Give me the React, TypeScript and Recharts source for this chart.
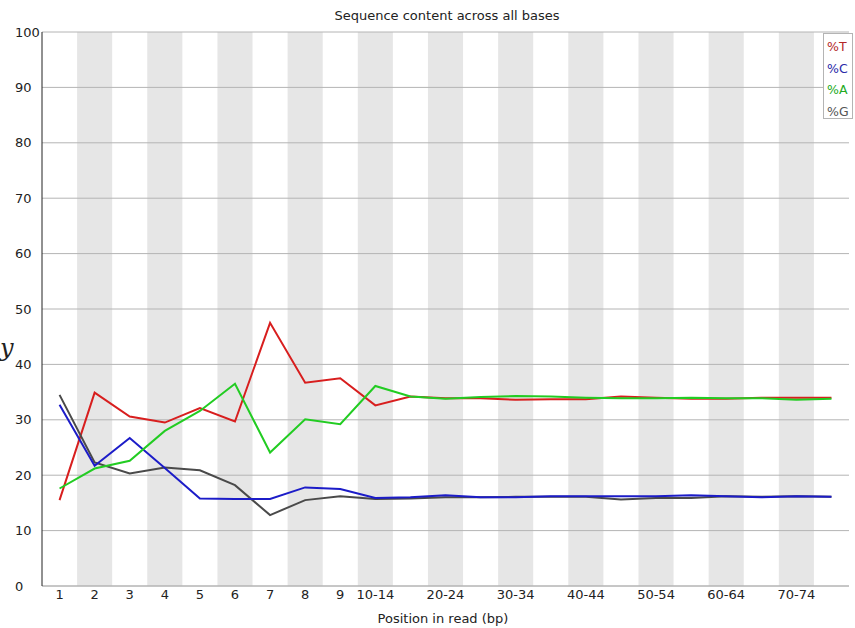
import {
  LineChart,
  Line,
  XAxis,
  YAxis,
  CartesianGrid,
  ReferenceArea,
} from "recharts"

const categories = [
  "1", "2", "3", "4", "5", "6", "7", "8", "9",
  "10-14", "15-19", "20-24", "25-29", "30-34", "35-39", "40-44",
  "45-49", "50-54", "55-59", "60-64", "65-69", "70-74", "75-76",
]

const shownLabels = [
  "1", "2", "3", "4", "5", "6", "7", "8", "9",
  "10-14", "20-24", "30-34", "40-44", "50-54", "60-64", "70-74",
]

const yTicks = [0, 10, 20, 30, 40, 50, 60, 70, 80, 90, 100]

const pctT = [
  15.5, 34.9, 30.6, 29.5, 32.1, 29.7, 47.5, 36.7, 37.5, 32.6, 34.2, 33.9,
  33.9, 33.6, 33.7, 33.7, 34.2, 34.0, 33.8, 33.8, 34.0, 34.0, 34.0,
]
const pctC = [
  32.7, 21.7, 26.7, 21.3, 15.8, 15.7, 15.7, 17.8, 17.5, 15.9, 16.0, 16.4,
  16.0, 16.0, 16.2, 16.2, 16.2, 16.2, 16.4, 16.2, 16.0, 16.2, 16.1,
]
const pctA = [
  17.6, 21.2, 22.6, 28.0, 31.6, 36.5, 24.1, 30.1, 29.2, 36.1, 34.2, 33.8,
  34.1, 34.3, 34.2, 34.0, 33.9, 33.9, 34.0, 33.9, 33.9, 33.6, 33.8,
]
const pctG = [
  34.5, 22.3, 20.3, 21.4, 20.9, 18.2, 12.8, 15.5, 16.2, 15.7, 15.8, 16.0,
  16.0, 16.1, 16.1, 16.1, 15.6, 15.9, 15.9, 16.2, 16.1, 16.2, 16.1,
]

const series = [
  { key: "T", label: "%T", color: "#d81e1e", text: "#b42828" },
  { key: "G", label: "%G", color: "#4a4a4a", text: "#555555" },
  { key: "C", label: "%C", color: "#1c1cc8", text: "#2a2aa8" },
  { key: "A", label: "%A", color: "#22cc22", text: "#22aa22" },
]
const legendOrder = ["T", "C", "A", "G"]

const font = "'DejaVu Sans', sans-serif"

// fastqc puts y labels flush left, not against the axis
function YTick({ y, payload }: { y?: number; payload?: { value: number } }) {
  if (y === undefined || !payload) return null
  return (
    <text x={15} y={y} dy="0.35em" textAnchor="start" fontSize={13} fontFamily={font} fill="#222">
      {payload.value}
    </text>
  )
}

export default function App() {
  const data = categories.map((name, i) => ({
    pos: i + 1,
    name,
    T: pctT[i],
    C: pctC[i],
    A: pctA[i],
    G: pctG[i],
  }))

  const xTicks = shownLabels.map((l) => categories.indexOf(l) + 1)
  const stripes = data.filter((d) => d.pos % 2 === 0)

  return (
    <div style={{ position: "absolute", left: 0, top: 0, width: 855, height: 628, background: "#fff", fontFamily: font }}>
      <LineChart
        width={855}
        height={628}
        data={data}
        margin={{ top: 32, right: 6, bottom: 0, left: 0 }}
      >
        {stripes.map((d) => (
          <ReferenceArea
            key={d.name}
            x1={d.pos - 0.5}
            x2={d.pos + 0.5}
            y1={0}
            y2={100}
            fill="#e6e6e6"
            fillOpacity={1}
            stroke="none"
            zIndex={-200}
          />
        ))}
        <CartesianGrid vertical={false} stroke="#b4b4b4" />
        <XAxis
          dataKey="pos"
          type="number"
          domain={[0.5, categories.length + 0.5]}
          ticks={xTicks}
          interval={0}
          tickFormatter={(v) => categories[v - 1]}
          height={42}
          axisLine={{ stroke: "#b4b4b4" }}
          tickLine={false}
          tickSize={4}
          tickMargin={0}
          tick={{ fill: "#222", fontSize: 13, fontFamily: font }}
        />
        <YAxis
          domain={[0, 100]}
          ticks={yTicks}
          width={42}
          axisLine={{ stroke: "#222" }}
          tickLine={false}
          tick={<YTick />}
        />
        {series.map((s) => (
          <Line
            key={s.key}
            dataKey={s.key}
            type="linear"
            stroke={s.color}
            strokeWidth={2}
            dot={false}
            isAnimationActive={false}
          />
        ))}
        <text x={447} y={20} textAnchor="middle" fontSize={13} fontFamily={font} fill="#222">
          Sequence content across all bases
        </text>
        <text x={443} y={623} textAnchor="middle" fontSize={13} fontFamily={font} fill="#222">
          Position in read (bp)
        </text>
        <text x={0} y={356} fontSize={24} fontFamily="'DejaVu Serif', serif" fontStyle="italic" fill="#222">
          y
        </text>
      </LineChart>
      <div
        style={{
          position: "absolute",
          left: 823,
          top: 33,
          width: 30,
          height: 86,
          background: "#fff",
          border: "1px solid #b4b4b4",
          fontSize: 12.5,
          lineHeight: "21.5px",
          paddingTop: 2,
          paddingLeft: 3,
          boxSizing: "border-box",
        }}
      >
        {legendOrder.map((k) => {
          const s = series.find((x) => x.key === k)!
          return (
            <div key={k} style={{ color: s.text }}>
              {s.label}
            </div>
          )
        })}
      </div>
    </div>
  )
}
